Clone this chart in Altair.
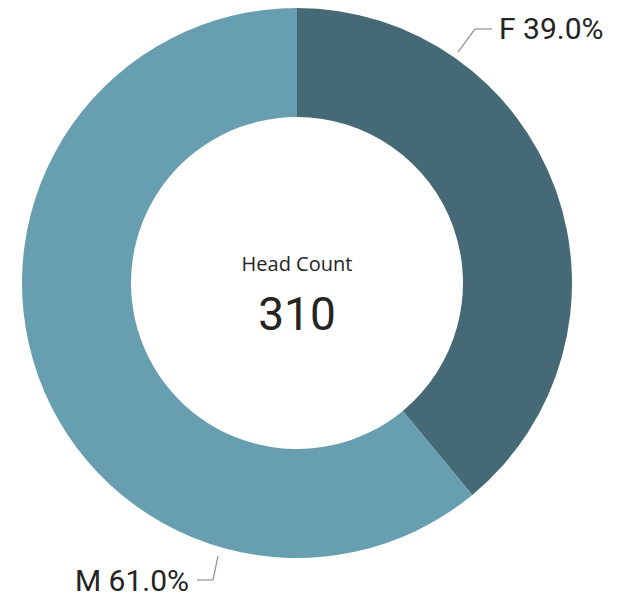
import altair as alt
import pandas as pd

genders = ["F", "M"]
shares = [39.0, 61.0]
center_title = "Head Count"
head_count = 310
colors = ["#466A75", "#679FB1"]

df = pd.DataFrame({"gender": genders, "share": shares, "order": [0, 1]})
labels = [f"{g} {s:.1f}%" for g, s in zip(genders, shares)]

CX, CY = 289, 275  # donut center in plot coords

donut = alt.Chart(df).mark_arc(innerRadius=166, outerRadius=275).encode(
    theta=alt.Theta("share:Q", stack=True),
    color=alt.Color("gender:N", scale=alt.Scale(domain=genders, range=colors), legend=None),
    order=alt.Order("order:Q"),
    x=alt.value(CX),
    y=alt.value(CY),
)

label_f = alt.Chart(pd.DataFrame({"t": [labels[0]]})).mark_text(
    font="Roboto", fontSize=30, color="#252423", align="left", baseline="middle"
).encode(text="t:N", x=alt.value(491), y=alt.value(22))

label_m = alt.Chart(pd.DataFrame({"t": [labels[1]]})).mark_text(
    font="Roboto", fontSize=30, color="#252423", align="right", baseline="middle"
).encode(text="t:N", x=alt.value(181), y=alt.value(574))

line_style = dict(color="#9a9a9a", strokeWidth=1.3)
one = pd.DataFrame({"a": [0]})
lead_f1 = alt.Chart(one).mark_rule(**line_style).encode(
    x=alt.value(450), y=alt.value(44), x2=alt.value(467), y2=alt.value(21))
lead_f2 = alt.Chart(one).mark_rule(**line_style).encode(
    x=alt.value(467), y=alt.value(21), x2=alt.value(484), y2=alt.value(21))
lead_m1 = alt.Chart(one).mark_rule(**line_style).encode(
    x=alt.value(189), y=alt.value(572), x2=alt.value(205), y2=alt.value(572))
lead_m2 = alt.Chart(one).mark_rule(**line_style).encode(
    x=alt.value(205), y=alt.value(572), x2=alt.value(210), y2=alt.value(548))

title_txt = alt.Chart(pd.DataFrame({"t": [center_title]})).mark_text(
    font="Open Sans", fontSize=20, color="#252423", align="center", baseline="middle"
).encode(text="t:N", x=alt.value(CX), y=alt.value(CY - 18))

value_txt = alt.Chart(pd.DataFrame({"v": [head_count]})).mark_text(
    font="Roboto", fontSize=46, color="#252423", align="center", baseline="middle"
).encode(text="v:Q", x=alt.value(CX), y=alt.value(CY + 33))

chart = alt.layer(
    donut, lead_f1, lead_f2, lead_m1, lead_m2, label_f, label_m, title_txt, value_txt
).properties(
    width=605, height=589, autosize=alt.AutoSizeParams(type="none"), padding=0,
    background="white"
).configure_view(strokeWidth=0, stroke=None)

chart.save("out.html", embed_options={"renderer": "svg", "actions": False})
